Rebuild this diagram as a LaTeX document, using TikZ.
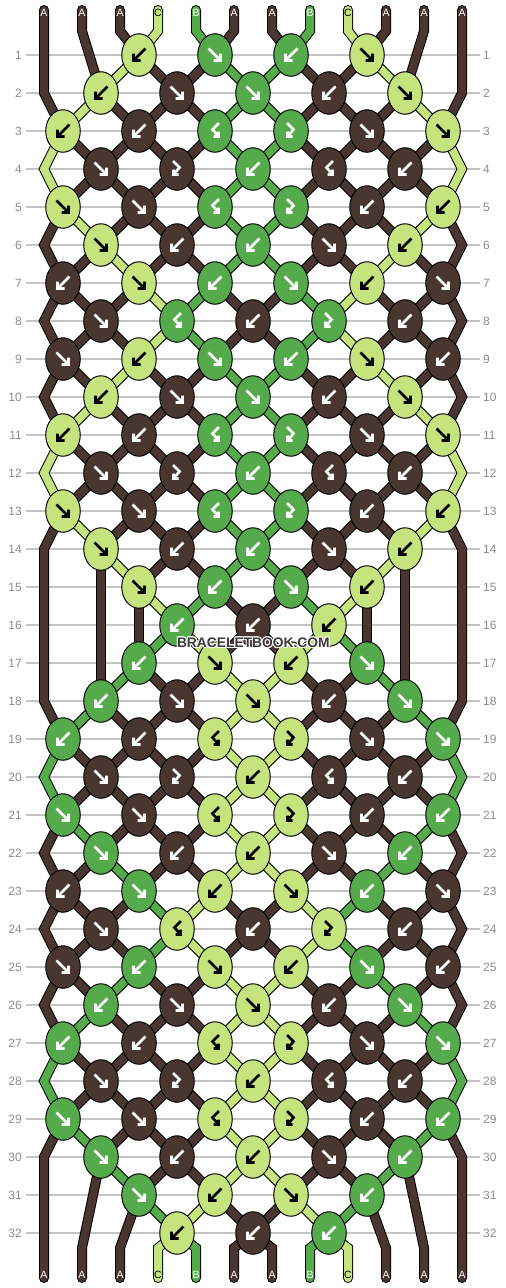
\documentclass[tikz,border=0pt]{standalone}
\usepackage{fontspec}
\setmainfont{Liberation Sans}
\usetikzlibrary{shapes.geometric}
\pgfdeclarelayer{bg}
\pgfsetlayers{bg,main}
\definecolor{cD}{HTML}{4A3630}
\definecolor{cG}{HTML}{55AB4C}
\definecolor{cL}{HTML}{C6E47E}
\definecolor{gridc}{HTML}{C4C4C4}
\definecolor{numc}{HTML}{8C8C8C}
\definecolor{wmc}{HTML}{3A3A3A}
\tikzset{
  knot/.style={ellipse, draw=black, line width=1pt, minimum width=34.5pt, minimum height=42.5pt, inner sep=0pt},
  str/.style={draw=black, line width=1pt, double distance=8pt, line join=miter},
  ico/.style={line width=2.6pt, line cap=butt, line join=miter},
  slab/.style={font=\fontsize{10.5}{10.5}\selectfont, inner sep=0pt},
  num/.style={font=\fontsize{12}{12}\selectfont, text=numc, inner sep=0pt},
  gridln/.style={draw=gridc, line width=1.2pt},
  wm/.style={font=\fontsize{13.8}{13.8}\selectfont\bfseries, inner sep=0pt}
}
\def\tyF{f}\def\tyFB{fb}\def\tyB{b}\def\tyBF{bf}\def\letL{L}
\newcommand\setR[2]{\foreach \q [count=\nn] in {#2}{\expandafter\xdef\csname R#1-\nn\endcsname{\q}}}
\newcommand\Rc[2]{\csname R\the\numexpr#1\relax-\the\numexpr#2\relax\endcsname}
\newcommand\mkknot[3]{%
  \pgfmathtruncatemacro\kx{63+38*(#2-1)}%
  \pgfmathtruncatemacro\ky{55+38*(#1-1)}%
  \edef\kt{#3}%
  \ifx\kt\tyF \edef\kc{\Rc{#1-1}{#2}}%
  \else\ifx\kt\tyFB \edef\kc{\Rc{#1-1}{#2}}%
  \else \edef\kc{\Rc{#1-1}{#2+1}}\fi\fi
  \ifx\kc\letL \def\ic{black}\else\def\ic{white}\fi
  \node[knot, fill=c\kc] (k#1-#2) at (\kx,\ky) {};%
  \expandafter\gdef\csname ex-#1-\the\numexpr#2\relax\endcsname{}%
  \ifx\kt\tyF \draw[ico,draw=\ic,shift={(\kx,\ky)}] (-6.5,-6.5) -- (5.5,5.5) (5.5,-1.5) -- (5.5,5.5) -- (-1.5,5.5);\fi
  \ifx\kt\tyB \draw[ico,draw=\ic,shift={(\kx,\ky)}] (6.5,-6.5) -- (-5.5,5.5) (-5.5,-1.5) -- (-5.5,5.5) -- (1.5,5.5);\fi
  \ifx\kt\tyFB \draw[ico,draw=\ic,shift={(\kx,\ky)}] (-4,-8) -- (2.5,-1.5) -- (-3.5,5.5) (-3.5,0.5) -- (-3.5,5.5) -- (1.5,5.5);\fi
  \ifx\kt\tyBF \draw[ico,draw=\ic,shift={(\kx,\ky)}] (4,-8) -- (-2.5,-1.5) -- (3.5,5.5) (3.5,0.5) -- (3.5,5.5) -- (-1.5,5.5);\fi
}
\newcommand\mkconn[2]{%
  \edef\rn{\the\numexpr#1+1\relax}%
  \edef\pl{\the\numexpr#2-1\relax}%
  \edef\pr{\the\numexpr#2+1\relax}%
  \edef\pp{\the\numexpr#2\relax}%
  \ifcsname ex-\rn-\pl\endcsname
    \edef\scol{\csname R#1-\pp\endcsname}%
    \draw[str,double=c\scol] (k#1-\pp.center) -- (k\rn-\pl.center);%
  \fi
  \ifcsname ex-\rn-\pr\endcsname
    \edef\scol{\csname R#1-\pr\endcsname}%
    \draw[str,double=c\scol] (k#1-\pp.center) -- (k\rn-\pr.center);%
  \fi}
\newcommand\knotrow[2]{\foreach \p/\ty in {#2}{\mkknot{#1}{\p}{\ty}}}
\newcommand\connrow[2]{\foreach \p/\ty in {#2}{\mkconn{#1}{\p}}}
\newcommand\allrows[1]{%
#1{1}{3/b,5/f,7/b,9/f}%
#1{2}{2/b,4/f,6/f,8/b,10/f}%
#1{3}{1/b,3/b,5/bf,7/fb,9/f,11/f}%
#1{4}{2/f,4/fb,6/b,8/bf,10/b}%
#1{5}{1/f,3/f,5/bf,7/fb,9/b,11/b}%
#1{6}{2/f,4/b,6/b,8/f,10/b}%
#1{7}{1/b,3/f,5/b,7/f,9/b,11/f}%
#1{8}{2/f,4/bf,6/b,8/fb,10/b}%
#1{9}{1/f,3/b,5/f,7/b,9/f,11/b}%
#1{10}{2/b,4/f,6/f,8/b,10/f}%
#1{11}{1/b,3/b,5/bf,7/fb,9/f,11/f}%
#1{12}{2/f,4/fb,6/b,8/bf,10/b}%
#1{13}{1/f,3/f,5/bf,7/fb,9/b,11/b}%
#1{14}{2/f,4/b,6/b,8/f,10/b}%
#1{15}{3/f,5/b,7/f,9/b}%
#1{16}{4/b,6/b,8/b}%
#1{17}{3/b,5/f,7/b,9/f}%
#1{18}{2/b,4/f,6/f,8/b,10/f}%
#1{19}{1/b,3/b,5/bf,7/fb,9/f,11/f}%
#1{20}{2/f,4/fb,6/b,8/bf,10/b}%
#1{21}{1/f,3/f,5/bf,7/fb,9/b,11/b}%
#1{22}{2/f,4/b,6/b,8/f,10/b}%
#1{23}{1/b,3/f,5/b,7/f,9/b,11/f}%
#1{24}{2/f,4/bf,6/b,8/fb,10/b}%
#1{25}{1/f,3/b,5/f,7/b,9/f,11/b}%
#1{26}{2/b,4/f,6/f,8/b,10/f}%
#1{27}{1/b,3/b,5/bf,7/fb,9/f,11/f}%
#1{28}{2/f,4/fb,6/b,8/bf,10/b}%
#1{29}{1/f,3/f,5/bf,7/fb,9/b,11/b}%
#1{30}{2/f,4/b,6/b,8/f,10/b}%
#1{31}{3/f,5/b,7/f,9/b}%
#1{32}{4/b,6/b,8/b}%
}
\begin{document}
\begin{tikzpicture}[x=1pt,y=-1pt]
\useasboundingbox (0,0) rectangle (506,1288);
% string colours after each row
\setR{0}{D,D,D,L,G,D,D,G,L,D,D,D}
\setR{1}{D,D,L,D,D,G,G,D,D,L,D,D}
\setR{2}{D,L,D,D,D,G,G,D,D,D,L,D}
\setR{3}{L,D,D,D,D,G,G,D,D,D,D,L}
\setR{4}{L,D,D,D,D,G,G,D,D,D,D,L}
\setR{5}{D,L,D,D,D,G,G,D,D,D,L,D}
\setR{6}{D,D,L,D,D,G,G,D,D,L,D,D}
\setR{7}{D,D,D,L,G,D,D,G,L,D,D,D}
\setR{8}{D,D,D,L,G,D,D,G,L,D,D,D}
\setR{9}{D,D,L,D,D,G,G,D,D,L,D,D}
\setR{10}{D,L,D,D,D,G,G,D,D,D,L,D}
\setR{11}{L,D,D,D,D,G,G,D,D,D,D,L}
\setR{12}{L,D,D,D,D,G,G,D,D,D,D,L}
\setR{13}{D,L,D,D,D,G,G,D,D,D,L,D}
\setR{14}{D,D,L,D,D,G,G,D,D,L,D,D}
\setR{15}{D,D,D,L,G,D,D,G,L,D,D,D}
\setR{16}{D,D,D,G,L,D,D,L,G,D,D,D}
\setR{17}{D,D,G,D,D,L,L,D,D,G,D,D}
\setR{18}{D,G,D,D,D,L,L,D,D,D,G,D}
\setR{19}{G,D,D,D,D,L,L,D,D,D,D,G}
\setR{20}{G,D,D,D,D,L,L,D,D,D,D,G}
\setR{21}{D,G,D,D,D,L,L,D,D,D,G,D}
\setR{22}{D,D,G,D,D,L,L,D,D,G,D,D}
\setR{23}{D,D,D,G,L,D,D,L,G,D,D,D}
\setR{24}{D,D,D,G,L,D,D,L,G,D,D,D}
\setR{25}{D,D,G,D,D,L,L,D,D,G,D,D}
\setR{26}{D,G,D,D,D,L,L,D,D,D,G,D}
\setR{27}{G,D,D,D,D,L,L,D,D,D,D,G}
\setR{28}{G,D,D,D,D,L,L,D,D,D,D,G}
\setR{29}{D,G,D,D,D,L,L,D,D,D,G,D}
\setR{30}{D,D,G,D,D,L,L,D,D,G,D,D}
\setR{31}{D,D,D,G,L,D,D,L,G,D,D,D}
\setR{32}{D,D,D,L,G,D,D,G,L,D,D,D}
% string end points
\foreach \i in {1,...,12}{
  \pgfmathtruncatemacro\sx{44+38*(\i-1)}
  \coordinate (t\i) at (\sx,10);
  \coordinate (tb\i) at (\sx,31);
  \coordinate (bb\i) at (\sx,1248);
  \coordinate (b\i) at (\sx,1278);
}
% knots
\allrows\knotrow
% string labels
\foreach \x/\l/\col [count=\i] in {44/A/white,82/A/white,120/A/white,158/C/black,196/B/white,234/A/white,272/A/white,310/B/white,348/C/black,386/A/white,424/A/white,462/A/white}{
  \node[slab,text=\col] (lt\i) at (\x,13) {\l};
  \node[slab,text=\col] (lb\i) at (\x,1275) {\l};
}
% watermark
\foreach \dx/\dy in {-1/0,1/0,0/-1,0/1,-0.8/-0.8,0.8/0.8,-0.8/0.8,0.8/-0.8}
  \node[wm,text=white] at (253.3+\dx,642.5+\dy) {BRACELETBOOK.COM};
\node[wm,text=wmc] (wm) at (253.3,642.5) {BRACELETBOOK.COM};
\begin{pgfonlayer}{bg}
\fill[white] (0,0) rectangle (506,1288);
\foreach \r in {1,...,32}{
  \pgfmathtruncatemacro\ry{55+38*(\r-1)}
  \node[num,anchor=east] (nl\r) at (22,\ry) {\r};
  \node[num,anchor=west] (nr\r) at (483,\ry) {\r};
  \draw[gridln] (26,\ry) -- (480,\ry);
}
% top strings
\draw[str,double=cD,line cap=round] (t1) -- (t1 |- k2-2.center) -- (k3-1.center);
\draw[str,double=cD,line cap=round] (t2) -- (tb2) -- (k2-2.center);
\draw[str,double=cD,line cap=round] (t3) -- (tb3) -- (k1-3.center);
\draw[str,double=cL,line cap=round] (t4) -- (tb4) -- (k1-3.center);
\draw[str,double=cG,line cap=round] (t5) -- (tb5) -- (k1-5.center);
\draw[str,double=cD,line cap=round] (t6) -- (tb6) -- (k1-5.center);
\draw[str,double=cD,line cap=round] (t7) -- (tb7) -- (k1-7.center);
\draw[str,double=cG,line cap=round] (t8) -- (tb8) -- (k1-7.center);
\draw[str,double=cL,line cap=round] (t9) -- (tb9) -- (k1-9.center);
\draw[str,double=cD,line cap=round] (t10) -- (tb10) -- (k1-9.center);
\draw[str,double=cD,line cap=round] (t11) -- (tb11) -- (k2-10.center);
\draw[str,double=cD,line cap=round] (t12) -- (t12 |- k2-10.center) -- (k3-11.center);
% knot to knot
\allrows\connrow
% edges
\foreach \r in {3,5,7,9,11,19,21,23,25,27}{
  \pgfmathtruncatemacro\ra{\r+1}
  \pgfmathtruncatemacro\rb{\r+2}
  \edef\scol{\csname R\r-1\endcsname}
  \draw[str,double=c\scol] (k\r-1.center) -- (t1 |- k\ra-2.center) -- (k\rb-1.center);
  \edef\scol{\csname R\r-12\endcsname}
  \draw[str,double=c\scol] (k\r-11.center) -- (t12 |- k\ra-10.center) -- (k\rb-11.center);
}
\draw[str,double=cD] (k13-1.center) -- (t1 |- k14-2.center) -- (t1 |- k18-2.center) -- (k19-1.center);
\draw[str,double=cD] (k13-11.center) -- (t12 |- k14-10.center) -- (t12 |- k18-10.center) -- (k19-11.center);
\draw[str,double=cD] (k14-2.center) -- (k18-2.center);
\draw[str,double=cD] (k15-3.center) -- (k17-3.center);
\draw[str,double=cD] (k15-9.center) -- (k17-9.center);
\draw[str,double=cD] (k14-10.center) -- (k18-10.center);
% bottom strings
\draw[str,double=cD,line cap=round] (k29-1.center) -- (t1 |- k30-2.center) -- (b1);
\draw[str,double=cD,line cap=round] (k30-2.center) -- (bb2) -- (b2);
\draw[str,double=cD,line cap=round] (k31-3.center) -- (bb3) -- (b3);
\draw[str,double=cL,line cap=round] (k32-4.center) -- (bb4) -- (b4);
\draw[str,double=cG,line cap=round] (k32-4.center) -- (bb5) -- (b5);
\draw[str,double=cD,line cap=round] (k32-6.center) -- (bb6) -- (b6);
\draw[str,double=cD,line cap=round] (k32-6.center) -- (bb7) -- (b7);
\draw[str,double=cG,line cap=round] (k32-8.center) -- (bb8) -- (b8);
\draw[str,double=cL,line cap=round] (k32-8.center) -- (bb9) -- (b9);
\draw[str,double=cD,line cap=round] (k31-9.center) -- (bb10) -- (b10);
\draw[str,double=cD,line cap=round] (k30-10.center) -- (bb11) -- (b11);
\draw[str,double=cD,line cap=round] (k29-11.center) -- (t12 |- k30-10.center) -- (b12);
\end{pgfonlayer}
\end{tikzpicture}
\end{document}
